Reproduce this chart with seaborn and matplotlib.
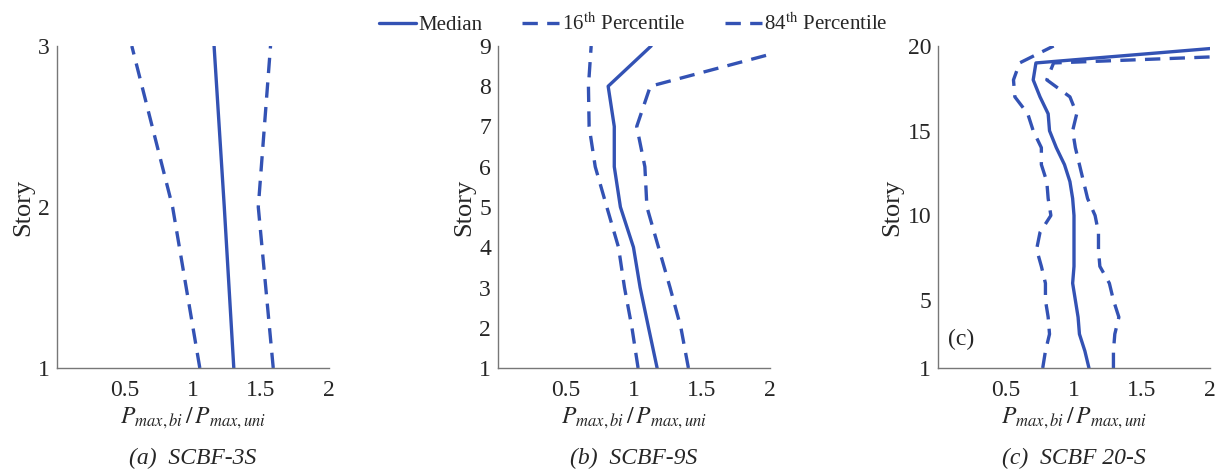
import matplotlib
matplotlib.use('Agg')
import matplotlib.pyplot as plt
import seaborn as sns
import pandas as pd

# Story-wise ratio of bidirectional to unidirectional max axial load
stories_3 = [1, 2, 3]
median_3 = [1.30, 1.23, 1.155]
p16_3 = [1.05, 0.85, 0.55]
p84_3 = [1.59, 1.48, 1.57]

stories_9 = [1, 2, 3, 4, 5, 6, 7, 8, 9]
median_9 = [1.17, 1.107, 1.045, 0.996, 0.90, 0.855, 0.855, 0.81, 1.126]
p16_9 = [1.03, 0.985, 0.93, 0.886, 0.80, 0.715, 0.67, 0.665, 0.685]
p84_9 = [1.40, 1.345, 1.265, 1.18, 1.095, 1.08, 1.02, 1.12, 2.23]

stories_20 = list(range(1, 21))
median_20 = [1.11, 1.08, 1.04, 1.03, 1.01, 0.99, 1.0, 1.0, 1.0, 1.0,
             0.99, 0.97, 0.93, 0.87, 0.82, 0.81, 0.75, 0.70, 0.72, 2.23]
p16_20 = [0.77, 0.79, 0.82, 0.81, 0.79, 0.79, 0.76, 0.725, 0.75, 0.83,
          0.81, 0.80, 0.76, 0.76, 0.70, 0.66, 0.565, 0.555, 0.60, 0.85]
p84_20 = [1.29, 1.29, 1.30, 1.33, 1.29, 1.26, 1.19, 1.18, 1.18, 1.155,
          1.10, 1.07, 1.04, 1.01, 0.99, 1.02, 0.97, 0.80, 0.85, 4.1]

panels = [
    ('(a)  SCBF-3S', stories_3, median_3, p16_3, p84_3, [1, 2, 3]),
    ('(b)  SCBF-9S', stories_9, median_9, p16_9, p84_9, list(range(1, 10))),
    ('(c)  SCBF 20-S', stories_20, median_20, p16_20, p84_20, [1, 5, 10, 15, 20]),
]

sns.set_style('white')
plt.rcParams['font.family'] = ['Liberation Serif', 'DejaVu Serif']
plt.rcParams['mathtext.fontset'] = 'stix'

blue = '#3352b4'
dash = (0, (4.6, 2.8))
lefts = [57, 498, 938]
lab16 = '16$^{\\mathrm{th}}$ Percentile'
lab84 = '84$^{\\mathrm{th}}$ Percentile'

fig = plt.figure(figsize=(12.2, 4.7), dpi=100)
handles = None
for i, (title, st, med, lo, hi, yt) in enumerate(panels):
    ax = fig.add_axes([lefts[i] / 1220, 1 - 368 / 470, 272 / 1220, 322 / 470])
    df = pd.DataFrame({'story': st, 'med': med, 'lo': lo, 'hi': hi})
    # one line per statistic, drawn along the stories (no aggregation)
    sns.lineplot(x='med', y='story', data=df, sort=False, estimator=None,
                 orient='y', color=blue, lw=2.4, ax=ax, label='Median')
    sns.lineplot(x='lo', y='story', data=df, sort=False, estimator=None,
                 orient='y', color=blue, lw=2.4, ax=ax, label=lab16, linestyle=dash)
    sns.lineplot(x='hi', y='story', data=df, sort=False, estimator=None,
                 orient='y', color=blue, lw=2.4, ax=ax, label=lab84, linestyle=dash)
    handles, labels = ax.get_legend_handles_labels()
    ax.get_legend().remove()
    ax.set_xlim(0, 2)
    ax.set_ylim(st[0], st[-1])
    ax.set_xticks([0.5, 1, 1.5, 2])
    ax.set_xticklabels(['0.5', '1', '1.5', '2'])
    ax.set_yticks(yt)
    ax.tick_params(direction='in', length=4, width=0.8, color='#777777',
                   labelsize=17, pad=5)
    ax.tick_params(axis='x', pad=9)
    for s in ['top', 'right']:
        ax.spines[s].set_visible(False)
    for s in ['left', 'bottom']:
        ax.spines[s].set_color('#777777')
        ax.spines[s].set_linewidth(1.0)
    ax.set_xlabel(r'$P_{max,bi}\,/\,P_{max,uni}$', fontsize=17, labelpad=3)
    ax.set_ylabel('Story', fontsize=19, labelpad=3)
    ax.patch.set_alpha(0)
    fig.text((lefts[i] + 136) / 1220, 1 - 458 / 470, title, ha='center',
             va='center', fontsize=17, style='italic')
    if i == 2:
        ax.text(0.035, 0.09, '(c)', transform=ax.transAxes, fontsize=17,
                va='center', ha='left')

fig.legend(handles, labels, loc='upper center', bbox_to_anchor=(0.519, 1.012),
           ncol=3, frameon=False, fontsize=15, handlelength=1.8,
           handletextpad=0.1, columnspacing=1.9)

plt.savefig('out.png', dpi=100)
plt.close()
